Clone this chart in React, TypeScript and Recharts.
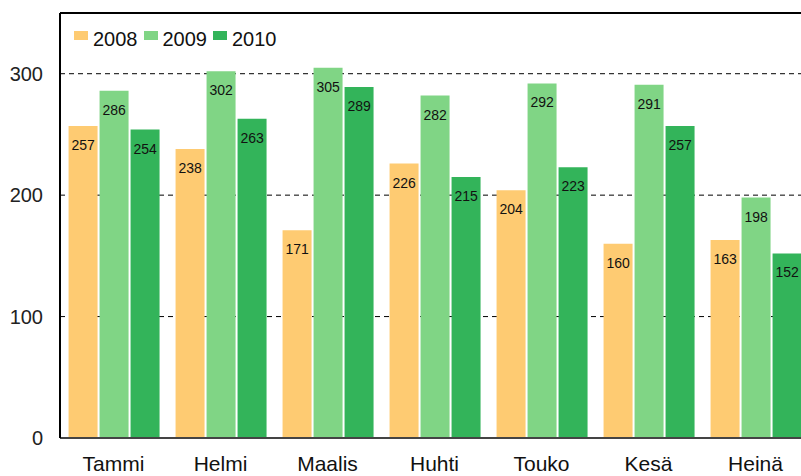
import React from 'react';
import {
  BarChart,
  Bar,
  XAxis,
  YAxis,
  CartesianGrid,
  LabelList,
  ReferenceLine,
} from 'recharts';

const months = ['Tammi', 'Helmi', 'Maalis', 'Huhti', 'Touko', 'Kesä', 'Heinä'];
const values2008 = [257, 238, 171, 226, 204, 160, 163];
const values2009 = [286, 302, 305, 282, 292, 291, 198];
const values2010 = [254, 263, 289, 215, 223, 257, 152];
const yTicks = [0, 100, 200, 300];

const series = [
  { key: 'y2008', name: '2008', color: '#FECB72' },
  { key: 'y2009', name: '2009', color: '#80D585' },
  { key: 'y2010', name: '2010', color: '#33B45A' },
];

const data = months.map((m, i) => ({
  month: m,
  y2008: values2008[i],
  y2009: values2009[i],
  y2010: values2010[i],
}));

const font = '"Liberation Sans", Arial, sans-serif';

// legend drawn as an overlay so it does not push the plot area down
const ChartLegend = () => (
  <div
    style={{
      position: 'absolute',
      top: 29,
      left: 74,
      display: 'flex',
      alignItems: 'flex-start',
      fontFamily: font,
      fontSize: 20,
      lineHeight: '20px',
      color: '#111',
    }}
  >
    {series.map(s => (
      <div key={s.key} style={{ display: 'flex', alignItems: 'flex-start', marginRight: 6 }}>
        <span
          style={{ display: 'inline-block', width: 14, height: 9, marginTop: 2, background: s.color, marginRight: 5 }}
        />
        <span>{s.name}</span>
      </div>
    ))}
  </div>
);

export default function App() {
  return (
    <div
      style={{
        position: 'fixed',
        top: 0,
        left: 0,
        width: 801,
        height: 476,
        overflow: 'hidden',
        background: '#fff',
      }}
    >
      <BarChart
        width={812}
        height={500}
        data={data}
        margin={{ top: 13, right: 3, left: 0, bottom: 22 }}
        barCategoryGap="8%"
        barGap={2}
      >
        <CartesianGrid vertical={false} stroke="#000" strokeDasharray="5 4" />
        <XAxis
          dataKey="month"
          height={40}
          tickLine={false}
          tickSize={0}
          tickMargin={18}
          axisLine={{ stroke: '#444', strokeWidth: 2 }}
          tick={{ fill: '#111', fontSize: 21, fontFamily: font }}
        />
        <YAxis
          width={60}
          domain={[0, 350]}
          ticks={yTicks}
          tickLine={false}
          tickSize={6}
          tickMargin={11}
          axisLine={{ stroke: '#000', strokeWidth: 2 }}
          tick={{ fill: '#222', fontSize: 20, fontFamily: font }}
        />
        <ReferenceLine y={350} stroke="#000" strokeWidth={2} />
        {series.map(s => (
          <Bar key={s.key} dataKey={s.key} name={s.name} fill={s.color} isAnimationActive={false}>
            <LabelList
              dataKey={s.key}
              position="insideTop"
              offset={14}
              fill="#111"
              fontSize={14}
              fontFamily={font}
            />
          </Bar>
        ))}
      </BarChart>
      <ChartLegend />
    </div>
  );
}
